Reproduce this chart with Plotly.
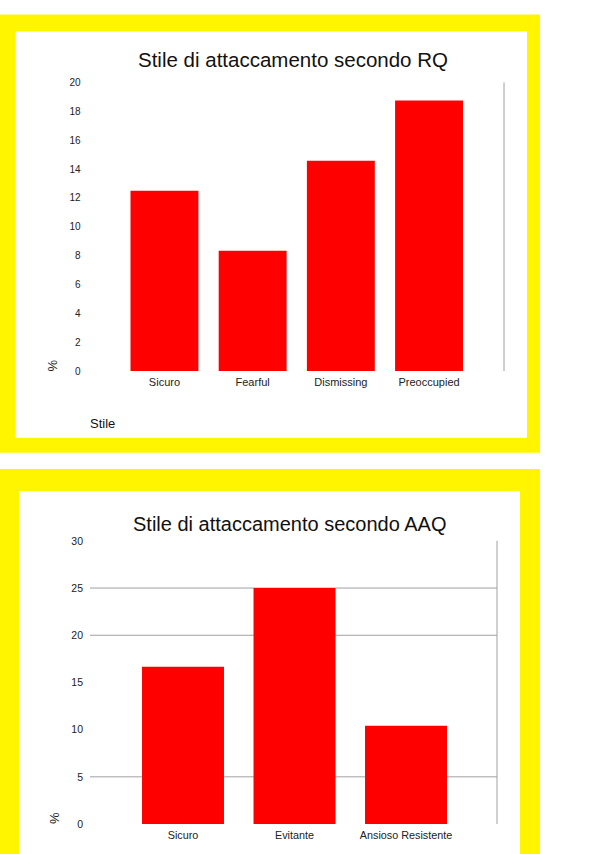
import plotly.graph_objects as go

# ---- data -------------------------------------------------------------
rq_categories = ["Sicuro", "Fearful", "Dismissing", "Preoccupied"]
rq_values = [12.5, 8.33, 14.58, 18.75]
rq_ticks = [0, 2, 4, 6, 8, 10, 12, 14, 16, 18, 20]

aaq_categories = ["Sicuro", "Evitante", "Ansioso Resistente"]
aaq_values = [16.67, 25, 10.42]
aaq_ticks = [0, 5, 10, 15, 20, 25, 30]
aaq_gridlines = [5, 20, 25]

# ---- page geometry (pixels) ------------------------------------------
W, H = 603, 854
ROW0, ROWS = 5.5, 843.0      # vertical placement of the drawing rows
FONT = "Liberation Sans, Arial, sans-serif"
RED = "#ff0000"
YELLOW = "#fff500"
GRAY = "#a0a0a0"


def px(x):
    return x / W


def py(y):
    return 1 - (y - ROW0) / ROWS


fig = go.Figure()

fig.add_trace(go.Bar(
    x=rq_categories, y=rq_values, width=0.77,
    marker=dict(color=RED, line=dict(width=0)),
    xaxis="x", yaxis="y", showlegend=False, hoverinfo="x+y",
))
fig.add_trace(go.Bar(
    x=aaq_categories, y=aaq_values, width=0.735,
    marker=dict(color=RED, line=dict(width=0)),
    xaxis="x2", yaxis="y2", showlegend=False, hoverinfo="x+y",
))

shapes = [
    # yellow frames with white cards
    dict(type="rect", xref="paper", yref="paper", x0=px(0), x1=px(540),
         y0=py(452.7), y1=py(14), fillcolor=YELLOW, line_width=0, layer="below"),
    dict(type="rect", xref="paper", yref="paper", x0=px(15.7), x1=px(527),
         y0=py(437.7), y1=py(31), fillcolor="white", line_width=0, layer="below"),
    dict(type="rect", xref="paper", yref="paper", x0=px(0), x1=px(540),
         y0=-0.05, y1=py(469), fillcolor=YELLOW, line_width=0, layer="below"),
    dict(type="rect", xref="paper", yref="paper", x0=px(19), x1=px(520),
         y0=-0.05, y1=py(491), fillcolor="white", line_width=0, layer="below"),
    # right-hand frame lines
    dict(type="line", xref="x domain", yref="y domain", x0=1, x1=1, y0=0, y1=1,
         line=dict(color=GRAY, width=1)),
    dict(type="line", xref="x2 domain", yref="y2 domain", x0=1, x1=1, y0=0, y1=1,
         line=dict(color=GRAY, width=1)),
]
for g in aaq_gridlines:
    shapes.append(dict(type="line", xref="x2 domain", yref="y2", x0=0, x1=1,
                       y0=g, y1=g, line=dict(color=GRAY, width=1), layer="below"))

annotations = [
    dict(text="Stile di attaccamento secondo RQ", xref="paper", yref="paper",
         x=px(293.3), y=py(59.2), xanchor="center", yanchor="middle",
         showarrow=False, font=dict(family=FONT, size=20.5, color="#111")),
    dict(text="Stile di attaccamento secondo AAQ", xref="paper", yref="paper",
         x=px(290.2), y=py(524.2), xanchor="center", yanchor="middle",
         showarrow=False, font=dict(family=FONT, size=20, color="#111")),
    dict(text="%", xref="paper", yref="paper", x=px(52.5), y=py(366),
         xanchor="center", yanchor="middle", textangle=-90, showarrow=False,
         font=dict(family=FONT, size=13, color="#222")),
    dict(text="%", xref="paper", yref="paper", x=px(54.5), y=py(819),
         xanchor="center", yanchor="middle", textangle=-90, showarrow=False,
         font=dict(family=FONT, size=13, color="#222")),
    dict(text="Stile", xref="paper", yref="paper", x=px(87.5), y=py(423),
         xanchor="left", yanchor="middle", showarrow=False,
         font=dict(family=FONT, size=13, color="#111")),
]

fig.update_layout(
    width=W, height=H, autosize=False,
    margin=dict(l=0, r=0, t=0, b=0, pad=0),
    paper_bgcolor="white", plot_bgcolor="rgba(0,0,0,0)",
    bargap=0.2, showlegend=False,
    font=dict(family=FONT, color="#222"),
    shapes=shapes, annotations=annotations,
    xaxis=dict(domain=[px(89.5), px(504)], range=[-0.85, 3.85],
               showgrid=False, showline=False, zeroline=False, ticks="",
               tickfont=dict(size=11, color="#222"), ticklabelstandoff=3,
               anchor="y", fixedrange=True),
    yaxis=dict(domain=[py(371), py(82)], range=[0, 20], tickvals=rq_ticks,
               showgrid=False, showline=False, zeroline=False, ticks="",
               tickfont=dict(size=10, color="#222"), ticklabelstandoff=8,
               anchor="x", fixedrange=True),
    xaxis2=dict(domain=[px(90), px(497)], range=[-0.834, 2.816],
                showgrid=False, showline=False, zeroline=False, ticks="",
                tickfont=dict(size=10.8, color="#222"), ticklabelstandoff=3,
                anchor="y2", fixedrange=True),
    yaxis2=dict(domain=[py(824.5), py(541)], range=[0, 30], tickvals=aaq_ticks,
                showgrid=False, showline=False, zeroline=False, ticks="",
                tickfont=dict(size=10.5, color="#222"), ticklabelstandoff=6,
                anchor="x2", fixedrange=True),
)

fig.write_html("out.html", config={"displayModeBar": False})
